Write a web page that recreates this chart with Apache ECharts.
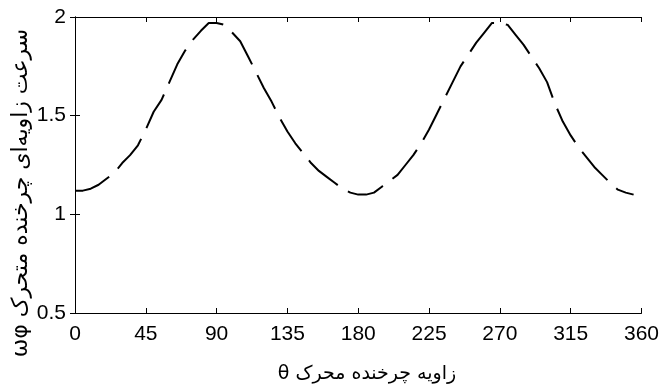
<!DOCTYPE html>
<html><head><meta charset="utf-8">
<script src="https://cdn.jsdelivr.net/npm/echarts@6/dist/echarts.min.js"></script>
<style>html,body{margin:0;padding:0;background:#fff}#c{width:662px;height:391px}</style>
</head><body><div id="c"></div>
<script>
const theta = [0,5,10,15,20,25,30,35,40,45,50,55,60,65,70,75,80,85,90,95,100,105,110,115,120,125,130,135,140,145,150,155,160,165,170,175,180,185,190,195,200,205,210,215,220,225,230,235,240,245,250,255,260,265,270,275,280,285,290,295,300,305,310,315,320,325,330,335,340,345,350,355];
const omega = [1.12,1.12,1.13,1.15,1.18,1.21,1.26,1.30,1.35,1.43,1.52,1.58,1.67,1.76,1.83,1.885,1.93,1.97,1.97,1.96,1.92,1.877,1.80,1.72,1.64,1.57,1.49,1.42,1.36,1.31,1.26,1.22,1.19,1.16,1.13,1.11,1.10,1.10,1.11,1.14,1.17,1.20,1.25,1.30,1.36,1.43,1.51,1.59,1.67,1.75,1.81,1.87,1.92,1.97,1.97,1.96,1.91,1.86,1.80,1.74,1.67,1.56,1.47,1.40,1.34,1.29,1.24,1.20,1.16,1.125,1.11,1.10];
const xTicks = [0,45,90,135,180,225,270,315,360];
const yTicks = [0.5,1,1.5,2];
const xTitle = 'θ زاویه چرخنده محرک';
const yTitle = 'ωφ سرعت زاویه‌ای چرخنده متحرک';

const chart = echarts.init(document.getElementById('c'), null, {renderer:'canvas'});
const lblFont = {color:'#000', fontSize:21, fontFamily:'Liberation Sans, Arial'};
const axLine = {show:true, lineStyle:{color:'#000', width:1}};
const tick = {show:true, inside:true, length:5, lineStyle:{color:'#000'}};
chart.setOption({
  animation:false,
  backgroundColor:'#fff',
  grid:{left:75, right:15, top:17, bottom:78},
  xAxis:[
    {type:'value', min:xTicks[0], max:xTicks[xTicks.length-1], interval:45, position:'bottom',
     axisLine:axLine, axisTick:tick, splitLine:{show:false},
     axisLabel:Object.assign({margin:11}, lblFont)},
    {type:'value', min:0, max:360, interval:45, position:'top',
     axisLine:axLine, axisTick:tick, splitLine:{show:false}, axisLabel:{show:false}}
  ],
  yAxis:[
    {type:'value', min:yTicks[0], max:yTicks[yTicks.length-1], interval:0.5, position:'left',
     axisLine:axLine, axisTick:tick, splitLine:{show:false},
     axisLabel:Object.assign({margin:9}, lblFont)},
    {type:'value', min:0.5, max:2, interval:0.5, position:'right',
     axisLine:axLine, axisTick:tick, splitLine:{show:false}, axisLabel:{show:false}}
  ],
  graphic:[
    {type:'text', x:367, y:374,
     style:{text:xTitle, fill:'#000', font:'19px "DejaVu Sans"', textAlign:'center', textVerticalAlign:'middle'}},
    {type:'text', x:21, y:193, rotation:Math.PI/2, originX:0, originY:0,
     style:{text:yTitle, fill:'#000', font:'22px "DejaVu Sans"', textAlign:'center', textVerticalAlign:'middle'}}
  ],
  series:[{
    type:'line', data:theta.map((t,i)=>[t, omega[i]]), showSymbol:false, smooth:false,
    lineStyle:{color:'#000', width:2, type:[38,12]}
  }]
});
</script></body></html>
